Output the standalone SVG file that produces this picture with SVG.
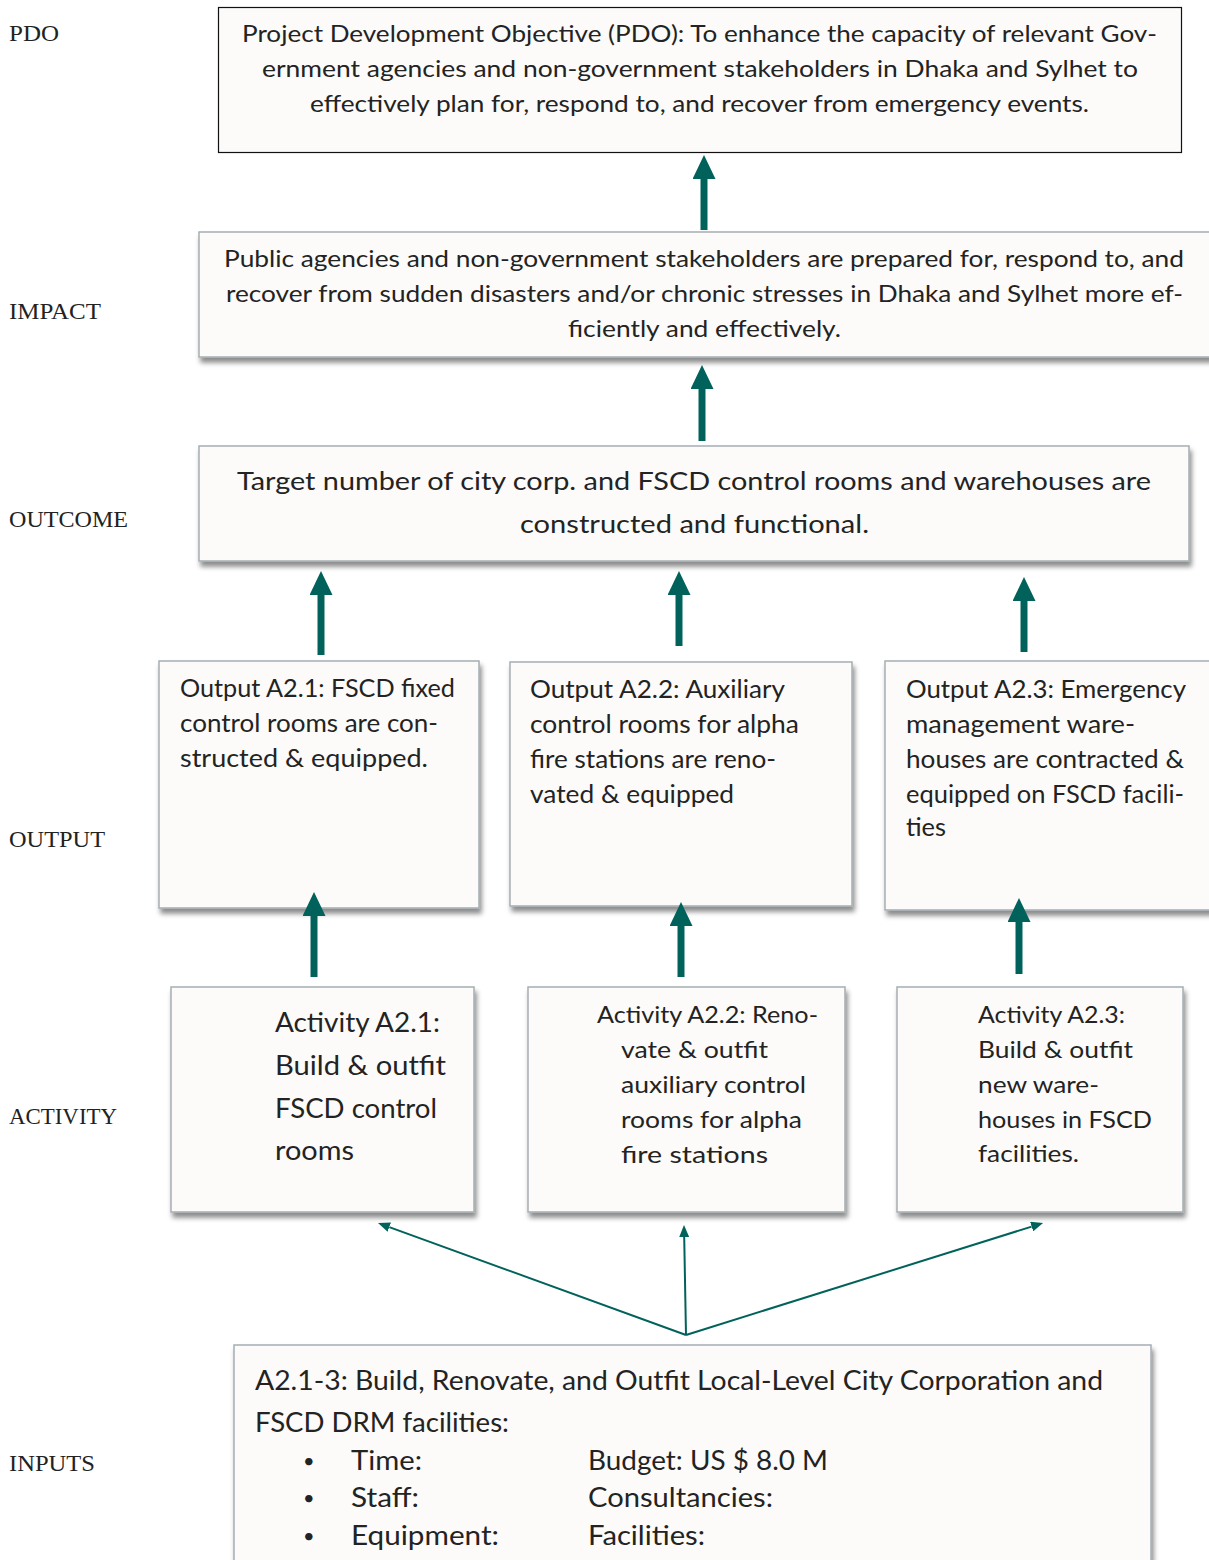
<svg xmlns="http://www.w3.org/2000/svg" width="1209" height="1560" viewBox="0 0 1209 1560">
  <style>
    .lbl { font-family: "Liberation Serif", serif; font-size: 24px; fill: #222; }
    .t { font-family: Lato, "Noto Sans", sans-serif; fill: #232323; }
    .s23 { font-size: 23px; }
    .s24 { font-size: 24px; }
    .s25 { font-size: 25px; }
    .s26 { font-size: 26px; }
    .bul { font-size: 20px; }
    .box { fill: #fcfbf9; stroke: #a5aeb3; stroke-width: 1.5; filter: url(#shadow); }
    .topbox { fill: #fcfbf9; stroke: #111; stroke-width: 1.2; }
    .thick { stroke: #00625a; stroke-width: 7; fill: none; marker-end: url(#bigHead); }
    .thin { stroke: #00625a; stroke-width: 2; fill: none; marker-end: url(#smallHead); }
  </style>
  <defs>
    <filter id="shadow" x="-5%" y="-10%" width="115%" height="130%">
      <feDropShadow dx="2" dy="5" stdDeviation="2.5" flood-color="#000" flood-opacity="0.45"/>
    </filter>
    <marker id="bigHead" markerUnits="userSpaceOnUse" viewBox="0 0 24 23" markerWidth="24" markerHeight="23" refX="0" refY="11.5" orient="auto">
      <path d="M0,0 L24,11.5 L0,23 z" fill="#00625a"/>
    </marker>
    <marker id="smallHead" markerUnits="userSpaceOnUse" viewBox="0 0 12 10" markerWidth="12" markerHeight="10" refX="0" refY="5" orient="auto">
      <path d="M0,0 L12,5 L0,10 z" fill="#00625a"/>
    </marker>
  </defs>

  <!-- level labels -->
  <g id="levels">
    <text class="lbl" x="9" y="41" textLength="50" lengthAdjust="spacingAndGlyphs">PDO</text>
    <text class="lbl" x="9" y="319" textLength="92" lengthAdjust="spacingAndGlyphs">IMPACT</text>
    <text class="lbl" x="9" y="527" textLength="119" lengthAdjust="spacingAndGlyphs">OUTCOME</text>
    <text class="lbl" x="9" y="847" textLength="96" lengthAdjust="spacingAndGlyphs">OUTPUT</text>
    <text class="lbl" x="9" y="1124" textLength="108" lengthAdjust="spacingAndGlyphs">ACTIVITY</text>
    <text class="lbl" x="9" y="1471" textLength="86" lengthAdjust="spacingAndGlyphs">INPUTS</text>
  </g>

  <!-- PDO -->
  <g id="pdo">
    <rect class="topbox" x="218.5" y="7.5" width="963" height="145"/>
    <text class="t s23" x="242" y="42" textLength="915" lengthAdjust="spacingAndGlyphs">Project Development Objective (PDO):  To enhance the capacity of relevant Gov-</text>
    <text class="t s23" x="262" y="77" textLength="876" lengthAdjust="spacingAndGlyphs">ernment agencies and non-government stakeholders in Dhaka and Sylhet to</text>
    <text class="t s23" x="310" y="112" textLength="779" lengthAdjust="spacingAndGlyphs">effectively plan for, respond to, and recover from emergency events.</text>
  </g>

  <!-- Impact -->
  <g id="impact">
    <rect class="box" x="199" y="232" width="1030" height="125"/>
    <text class="t s23" x="224" y="267" textLength="960" lengthAdjust="spacingAndGlyphs">Public agencies and non-government stakeholders are prepared for, respond to, and</text>
    <text class="t s23" x="226" y="302" textLength="957" lengthAdjust="spacingAndGlyphs">recover from sudden disasters and/or chronic stresses in Dhaka and Sylhet more ef-</text>
    <text class="t s23" x="568" y="337" textLength="273" lengthAdjust="spacingAndGlyphs">ficiently and effectively.</text>
  </g>

  <!-- Outcome -->
  <g id="outcome">
    <rect class="box" x="199" y="446" width="990" height="115"/>
    <text class="t s25" x="237" y="490" textLength="914" lengthAdjust="spacingAndGlyphs">Target number of city corp. and FSCD control rooms and warehouses are</text>
    <text class="t s25" x="520" y="533" textLength="349" lengthAdjust="spacingAndGlyphs">constructed and functional.</text>
  </g>

  <!-- Outputs -->
  <g id="output-a21">
    <rect class="box" x="159" y="661" width="320" height="247"/>
    <text class="t s25" x="180" y="697" textLength="275" lengthAdjust="spacingAndGlyphs">Output A2.1: FSCD fixed</text>
    <text class="t s25" x="180" y="732" textLength="258" lengthAdjust="spacingAndGlyphs">control rooms are con-</text>
    <text class="t s25" x="180" y="767" textLength="248" lengthAdjust="spacingAndGlyphs">structed &amp; equipped.</text>
  </g>
  <g id="output-a22">
    <rect class="box" x="510" y="662" width="342" height="244"/>
    <text class="t s25" x="530" y="698" textLength="255" lengthAdjust="spacingAndGlyphs">Output A2.2: Auxiliary</text>
    <text class="t s25" x="530" y="733" textLength="269" lengthAdjust="spacingAndGlyphs">control rooms for alpha</text>
    <text class="t s25" x="530" y="768" textLength="246" lengthAdjust="spacingAndGlyphs">fire stations are reno-</text>
    <text class="t s25" x="530" y="803" textLength="204" lengthAdjust="spacingAndGlyphs">vated &amp; equipped</text>
  </g>
  <g id="output-a23">
    <rect class="box" x="885" y="661" width="340" height="249"/>
    <text class="t s25" x="906" y="698" textLength="280" lengthAdjust="spacingAndGlyphs">Output A2.3: Emergency</text>
    <text class="t s25" x="906" y="733" textLength="229" lengthAdjust="spacingAndGlyphs">management ware-</text>
    <text class="t s25" x="906" y="768" textLength="278" lengthAdjust="spacingAndGlyphs">houses are contracted &amp;</text>
    <text class="t s25" x="906" y="803" textLength="278" lengthAdjust="spacingAndGlyphs">equipped on FSCD facili-</text>
    <text class="t s25" x="906" y="836" textLength="40" lengthAdjust="spacingAndGlyphs">ties</text>
  </g>

  <!-- Activities -->
  <g id="activity-a21">
    <rect class="box" x="171" y="987" width="303" height="225"/>
    <text class="t s26" x="275" y="1032" textLength="165" lengthAdjust="spacingAndGlyphs">Activity A2.1:</text>
    <text class="t s26" x="275" y="1075" textLength="171" lengthAdjust="spacingAndGlyphs">Build &amp; outfit</text>
    <text class="t s26" x="275" y="1118" textLength="162" lengthAdjust="spacingAndGlyphs">FSCD control</text>
    <text class="t s26" x="275" y="1160" textLength="79" lengthAdjust="spacingAndGlyphs">rooms</text>
  </g>
  <g id="activity-a22">
    <rect class="box" x="528" y="987" width="317" height="225"/>
    <text class="t s24" x="597" y="1023" textLength="221" lengthAdjust="spacingAndGlyphs">Activity A2.2: Reno-</text>
    <text class="t s24" x="621" y="1058" textLength="147" lengthAdjust="spacingAndGlyphs">vate &amp; outfit</text>
    <text class="t s24" x="621" y="1093" textLength="185" lengthAdjust="spacingAndGlyphs">auxiliary control</text>
    <text class="t s24" x="621" y="1128" textLength="181" lengthAdjust="spacingAndGlyphs">rooms for alpha</text>
    <text class="t s24" x="621" y="1163" textLength="147" lengthAdjust="spacingAndGlyphs">fire stations</text>
  </g>
  <g id="activity-a23">
    <rect class="box" x="897" y="987" width="286" height="225"/>
    <text class="t s24" x="978" y="1023" textLength="147" lengthAdjust="spacingAndGlyphs">Activity A2.3:</text>
    <text class="t s24" x="978" y="1058" textLength="155" lengthAdjust="spacingAndGlyphs">Build &amp; outfit</text>
    <text class="t s24" x="978" y="1093" textLength="121" lengthAdjust="spacingAndGlyphs">new ware-</text>
    <text class="t s24" x="978" y="1128" textLength="174" lengthAdjust="spacingAndGlyphs">houses in FSCD</text>
    <text class="t s24" x="978" y="1162" textLength="101" lengthAdjust="spacingAndGlyphs">facilities.</text>
  </g>

  <!-- Inputs -->
  <g id="inputs">
    <rect class="box" x="234" y="1345" width="917" height="240"/>
    <text class="t s26" x="255" y="1390" textLength="848" lengthAdjust="spacingAndGlyphs">A2.1-3: Build, Renovate, and Outfit Local-Level City Corporation and</text>
    <text class="t s26" x="255" y="1432" textLength="254" lengthAdjust="spacingAndGlyphs">FSCD DRM facilities:</text>
    <text class="t bul" x="303" y="1468">•</text>
    <text class="t bul" x="303" y="1505">•</text>
    <text class="t bul" x="303" y="1543">•</text>
    <text class="t s26" x="351" y="1470" textLength="71" lengthAdjust="spacingAndGlyphs">Time:</text>
    <text class="t s26" x="351" y="1507" textLength="68" lengthAdjust="spacingAndGlyphs">Staff:</text>
    <text class="t s26" x="351" y="1545" textLength="148" lengthAdjust="spacingAndGlyphs">Equipment:</text>
    <text class="t s26" x="588" y="1470" textLength="240" lengthAdjust="spacingAndGlyphs">Budget: US $ 8.0 M</text>
    <text class="t s26" x="588" y="1507" textLength="185" lengthAdjust="spacingAndGlyphs">Consultancies:</text>
    <text class="t s26" x="588" y="1545" textLength="117" lengthAdjust="spacingAndGlyphs">Facilities:</text>
  </g>

  <!-- connectors -->
  <g id="connectors">
    <line class="thick" x1="704" y1="230" x2="704" y2="179"/>
    <line class="thick" x1="702" y1="441" x2="702" y2="389"/>
    <line class="thick" x1="321" y1="655" x2="321" y2="595"/>
    <line class="thick" x1="679" y1="646" x2="679" y2="595"/>
    <line class="thick" x1="1024" y1="652" x2="1024" y2="601"/>
    <line class="thick" x1="314" y1="977" x2="314" y2="916"/>
    <line class="thick" x1="681" y1="977" x2="681" y2="926"/>
    <line class="thick" x1="1019" y1="974" x2="1019" y2="922"/>
    <line class="thin" x1="686" y1="1335" x2="389.3" y2="1227.1"/>
    <line class="thin" x1="686" y1="1335" x2="684.2" y2="1237"/>
    <line class="thin" x1="686" y1="1335" x2="1031.6" y2="1226.6"/>
  </g>
</svg>
